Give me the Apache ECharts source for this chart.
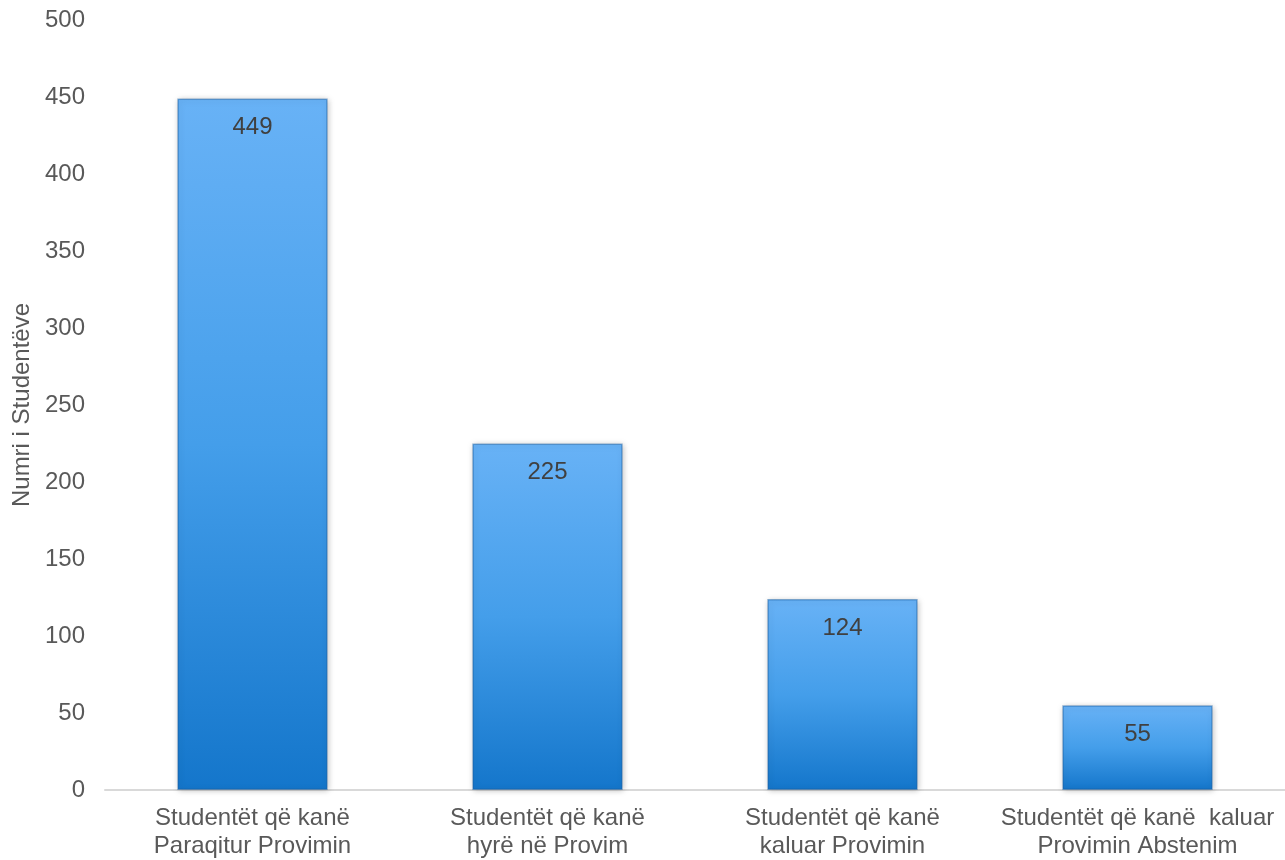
<!DOCTYPE html>
<html>
<head>
<meta charset="utf-8">
<script src="https://cdn.jsdelivr.net/npm/echarts@6/dist/echarts.min.js"></script>
<style>html,body{margin:0;padding:0;background:#fff}#c{width:1285px;height:860px}</style>
</head>
<body>
<div id="c"></div>
<script>
const categories = [
  "Studentët që kanë\nParaqitur Provimin",
  "Studentët që kanë\nhyrë në Provim",
  "Studentët që kanë\nkaluar Provimin",
  "Studentët që kanë  kaluar\nProvimin Abstenim"
];
const values = [449, 225, 124, 55];
const yTicks = { min: 0, max: 500, interval: 50 };
const yName = "Numri i Studentëve";

const chart = echarts.init(document.getElementById('c'), null, { renderer: 'canvas' });
const font = '"Liberation Sans", Arial, sans-serif';
chart.setOption({
  animation: false,
  grid: { left: 105, right: -5, top: 20, bottom: 67, containLabel: false },
  xAxis: {
    type: 'category',
    data: categories,
    axisLine: { lineStyle: { color: '#d9d9d9', width: 2 } },
    axisTick: { show: false },
    axisLabel: { color: '#595959', fontSize: 24, fontFamily: font, lineHeight: 28, margin: 14, interval: 0 }
  },
  yAxis: {
    type: 'value',
    min: yTicks.min, max: yTicks.max, interval: yTicks.interval,
    name: yName,
    nameLocation: 'middle',
    nameGap: 66,
    nameRotate: 90,
    nameTextStyle: { color: '#595959', fontSize: 24, fontFamily: font },
    axisLine: { show: false },
    axisTick: { show: false },
    splitLine: { show: false },
    axisLabel: { color: '#595959', fontSize: 24, fontFamily: font, margin: 20 }
  },
  series: [{
    type: 'bar',
    data: values,
    barWidth: '51%',
    itemStyle: {
      color: new echarts.graphic.LinearGradient(0, 0, 0, 1, [
        { offset: 0, color: '#68b2f6' },
        { offset: 0.5, color: '#449eea' },
        { offset: 1, color: '#1476cb' }
      ]),
      borderColor: 'rgba(20,90,160,0.45)',
      borderWidth: 1.5,
      shadowColor: 'rgba(0,0,0,0.25)',
      shadowBlur: 6,
      shadowOffsetX: 1,
      shadowOffsetY: 1
    },
    label: {
      show: true,
      position: 'insideTop',
      distance: 17,
      color: '#404040',
      fontSize: 24,
      fontFamily: font
    }
  }]
});
</script>
</body>
</html>
